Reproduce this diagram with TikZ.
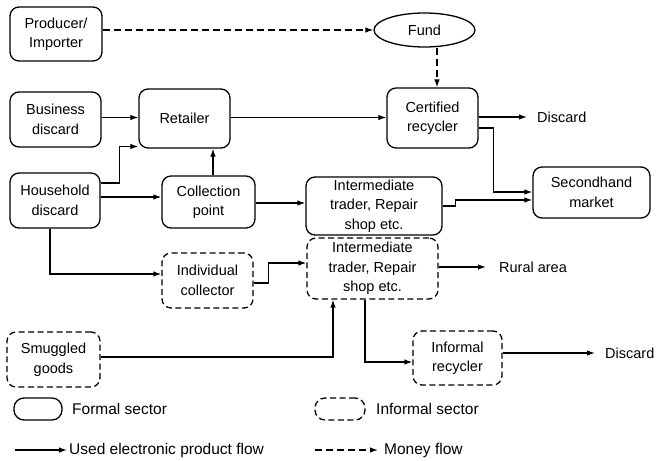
\documentclass[tikz,border=0pt]{standalone}
\usepackage{fontspec}
\setmainfont{Liberation Sans}
\usetikzlibrary{arrows.meta,shapes.geometric}
\begin{document}
\begin{tikzpicture}[x=1pt,y=-1pt,
  every node/.style={font=\fontsize{14.5}{19.5}\selectfont, inner sep=0pt},
  formal/.style={draw, rounded corners=9pt, line width=1.3pt, align=center},
  informal/.style={formal, dash pattern=on 6pt off 3.5pt},
  fundshape/.style={draw, ellipse, line width=1.3pt},
  flow/.style={line width=1.2pt, -{Latex[length=8pt,width=5.5pt]}},
  money/.style={flow, dash pattern=on 7pt off 4pt},
  lbl/.style={font=\fontsize{15.5}{18}\selectfont, anchor=west}]
\useasboundingbox (0,0) rectangle (657,461);
% nodes
\node[formal, minimum width=92pt, minimum height=54pt] (prod) at (56,34) {Producer/\\Importer};
\node[fundshape, minimum width=101pt, minimum height=34pt] (fund) at (424.5,30) {Fund};
\node[formal, minimum width=91pt, minimum height=55pt] (biz) at (55.5,119.5) {Business\\discard};
\node[formal, minimum width=91pt, minimum height=59pt] (ret) at (184.5,118.5) {Retailer};
\node[formal, minimum width=91pt, minimum height=60pt] (cert) at (432.5,118) {Certified\\recycler};
\node[anchor=west] (d1) at (537,117) {Discard};
\node[formal, minimum width=90pt, minimum height=55pt] (hh) at (55,200.5) {Household\\discard};
\node[formal, minimum width=93pt, minimum height=52pt] (coll) at (208.5,202) {Collection\\point};
\node[formal, minimum width=136pt, minimum height=58pt] (imf) at (374,206) {Intermediate\\trader, Repair\\shop etc.};
\node[formal, minimum width=117pt, minimum height=51pt] (sec) at (591.5,192.5) {Secondhand\\market};
\node[informal, minimum width=131pt, minimum height=61pt] (imi) at (372.5,268.5) {Intermediate\\trader, Repair\\shop etc.};
\node[anchor=west] (rural) at (499,267) {Rural area};
\node[informal, minimum width=91pt, minimum height=55pt] (ind) at (207.5,280.5) {Individual\\collector};
\node[informal, minimum width=89pt, minimum height=54pt] (inf) at (457.5,358) {Informal\\recycler};
\node[anchor=west] (d2) at (605,353) {Discard};
\node[informal, minimum width=93pt, minimum height=55pt] (smug) at (53.5,359.5) {Smuggled\\goods};
% legend
\node[formal, rounded corners=10pt, minimum width=48pt, minimum height=22pt] (lf) at (38,409) {};
\node[lbl] (lft) at (72,409) {Formal sector};
\node[informal, rounded corners=10pt, minimum width=50pt, minimum height=22pt] (li) at (340,409) {};
\node[lbl] (lit) at (376,409) {Informal sector};
\coordinate (la) at (15,450);
\node[lbl] (lat) at (69,450) {Used electronic product flow};
\coordinate (lm) at (315,450);
\node[lbl] (lmt) at (384,450) {Money flow};
% connectors
\draw[money] (prod.east |- fund.west) -- (fund.west);
\draw[money] ([xshift=4.5pt]cert.north |- fund.south) -- ([xshift=4.5pt]cert.north);
\draw[flow] (biz.east |- 0,117.5) -- (ret.west |- 0,117.5);
\draw[flow] (ret.east |- 0,117.5) -- (cert.west |- 0,117.5);
\draw[flow] (cert.east |- 0,117) -- ([xshift=-10pt]d1.west);
\draw[flow] ([yshift=-10pt]cert.east) -- ++(15,0) |- ([yshift=0.5pt]sec.west);
\draw[flow] (imf.east) -- ++(13,0) |- ([yshift=-7.5pt]sec.west);
\draw[flow] ([yshift=17.5pt]hh.east) -- ++(19,0) |- ([yshift=-28pt]ret.west);
\draw[flow] ([yshift=3.5pt]hh.east) -- ([yshift=3.5pt]hh.east -| coll.west);
\draw[flow] ([xshift=4.5pt]coll.north) -- ([xshift=4.5pt]coll.north |- ret.south);
\draw[flow] (coll.east |- 0,203) -- (imf.west |- 0,203);
\draw[flow] ([xshift=-5pt]hh.south) |- ([yshift=6.5pt]ind.west);
\draw[flow] ([yshift=-2.5pt]ind.east) -- ++(15,0) |- ([yshift=5.5pt]imi.west);
\draw[flow] ([yshift=2.5pt]smug.east) -| ([xshift=-39.5pt]imi.south);
\draw[flow] ([yshift=1.5pt]imi.east) -- ([xshift=-13pt,yshift=0pt]rural.west);
\draw[flow] ([xshift=-7.5pt]imi.south) |- ([yshift=-4pt]inf.west);
\draw[flow] ([yshift=5pt]inf.east) -- ([xshift=-10pt]d2.west);
\draw[flow] (la) -- ++(52,0);
\draw[money] (lm) -- ++(63,0);
\end{tikzpicture}
\end{document}
